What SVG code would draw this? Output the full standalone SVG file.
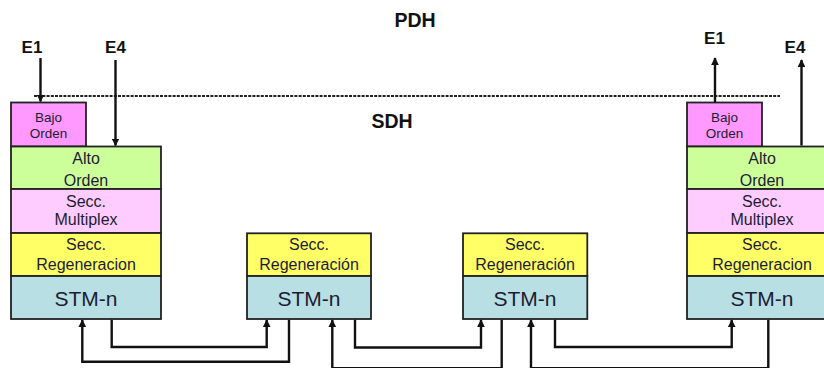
<svg xmlns="http://www.w3.org/2000/svg" width="824" height="368" viewBox="0 0 824 368">
<defs>
<style>
.b{stroke:#222;stroke-width:1.8}
.bo{fill:#FF99FF}.ao{fill:#CCFF99}.mx{fill:#FFCCFF}.rg{fill:#FFFF66}.st{fill:#B8DFE3}
text{font-family:"Liberation Sans",Arial,sans-serif;fill:#1c1c34;text-anchor:middle}
.s{font-size:13.5px}.m{font-size:16px}.l{font-size:21px}
.h{font-size:19.5px;font-weight:bold;fill:#111}
.e{font-size:17px;font-weight:bold;fill:#111}
.c{fill:none;stroke:#111;stroke-width:2.4}
</style>
<marker id="ar" viewBox="0 0 10 10" refX="9" refY="5" markerWidth="3.2" markerHeight="3.2" orient="auto" markerUnits="strokeWidth">
<path d="M0,0 L10,5 L0,10 z" fill="#111"/>
</marker>
</defs>
<rect width="824" height="368" fill="#fff"/>
<text class="h" x="415" y="26.5">PDH</text>
<text class="h" x="392" y="128.3">SDH</text>
<line x1="34" y1="96" x2="780" y2="96" stroke="#222" stroke-width="2" stroke-dasharray="3 1.2"/>

<g id="left-stack">
<rect class="b bo" x="11" y="102.5" width="75" height="44"/>
<rect class="b ao" x="11" y="146.5" width="150" height="42.5"/>
<rect class="b mx" x="11" y="189" width="150" height="44"/>
<rect class="b rg" x="11" y="233" width="150" height="43"/>
<rect class="b st" x="11" y="276" width="150" height="43"/>
<text class="s" x="48.5" y="121.5">Bajo</text>
<text class="s" x="48.5" y="138">Orden</text>
<text class="m" x="86" y="164">Alto</text>
<text class="m" x="86" y="185.5">Orden</text>
<text class="m" x="86" y="207">Secc.</text>
<text class="m" x="86" y="225">Multiplex</text>
<text class="m" x="86" y="250">Secc.</text>
<text class="m" x="86" y="269.5">Regeneracion</text>
<text class="l" x="86" y="305.5">STM-n</text>
</g>

<g id="regen-1">
<rect class="b rg" x="247" y="233.3" width="124" height="42.7"/>
<rect class="b st" x="247" y="276" width="124" height="43"/>
<text class="m" x="309" y="250">Secc.</text>
<text class="m" x="309" y="269.5">Regeneración</text>
<text class="l" x="309" y="305.5">STM-n</text>
</g>

<g id="regen-2">
<rect class="b rg" x="463" y="233.3" width="124.3" height="42.7"/>
<rect class="b st" x="463" y="276" width="124.3" height="43"/>
<text class="m" x="525" y="250">Secc.</text>
<text class="m" x="525" y="269.5">Regeneración</text>
<text class="l" x="525" y="305.5">STM-n</text>
</g>

<g id="right-stack">
<rect class="b bo" x="687" y="102.5" width="75" height="44"/>
<rect class="b ao" x="687" y="146.5" width="150" height="42.5"/>
<rect class="b mx" x="687" y="189" width="150" height="44"/>
<rect class="b rg" x="687" y="233" width="150" height="43"/>
<rect class="b st" x="687" y="276" width="150" height="43"/>
<text class="s" x="724.5" y="121.5">Bajo</text>
<text class="s" x="724.5" y="138">Orden</text>
<text class="m" x="762" y="164">Alto</text>
<text class="m" x="762" y="185.5">Orden</text>
<text class="m" x="762" y="207">Secc.</text>
<text class="m" x="762" y="225">Multiplex</text>
<text class="m" x="762" y="250">Secc.</text>
<text class="m" x="762" y="269.5">Regeneracion</text>
<text class="l" x="762" y="305.5">STM-n</text>
</g>

<g id="labels">
<text class="e" x="32" y="52.7">E1</text>
<text class="e" x="115.5" y="52.7">E4</text>
<text class="e" x="714.5" y="44.3">E1</text>
<text class="e" x="795" y="52.7">E4</text>
</g>

<g id="connectors">
<line class="c" x1="40.5" y1="58" x2="40.5" y2="101.5" marker-end="url(#ar)"/>
<line class="c" x1="115.5" y1="60" x2="115.5" y2="145.5" marker-end="url(#ar)"/>
<line class="c" x1="715" y1="102.5" x2="715" y2="58" marker-end="url(#ar)"/>
<line class="c" x1="801.5" y1="145.5" x2="801.5" y2="60" marker-end="url(#ar)"/>
<polyline class="c" points="111.7,319.8 111.7,347 266.7,347 266.7,320" marker-end="url(#ar)"/>
<polyline class="c" points="289,319.8 289,361.7 82.3,361.7 82.3,320" marker-end="url(#ar)"/>
<polyline class="c" points="355,319.8 355,347.5 481,347.5 481,320" marker-end="url(#ar)"/>
<polyline class="c" points="501.7,319.8 501.7,368.3 332.3,368.3 332.3,320" marker-end="url(#ar)"/>
<polyline class="c" points="555,319.8 555,347 731.7,347 731.7,320" marker-end="url(#ar)"/>
<polyline class="c" points="768.3,319.8 768.3,368.3 531,368.3 531,320" marker-end="url(#ar)"/>
</g>
</svg>
